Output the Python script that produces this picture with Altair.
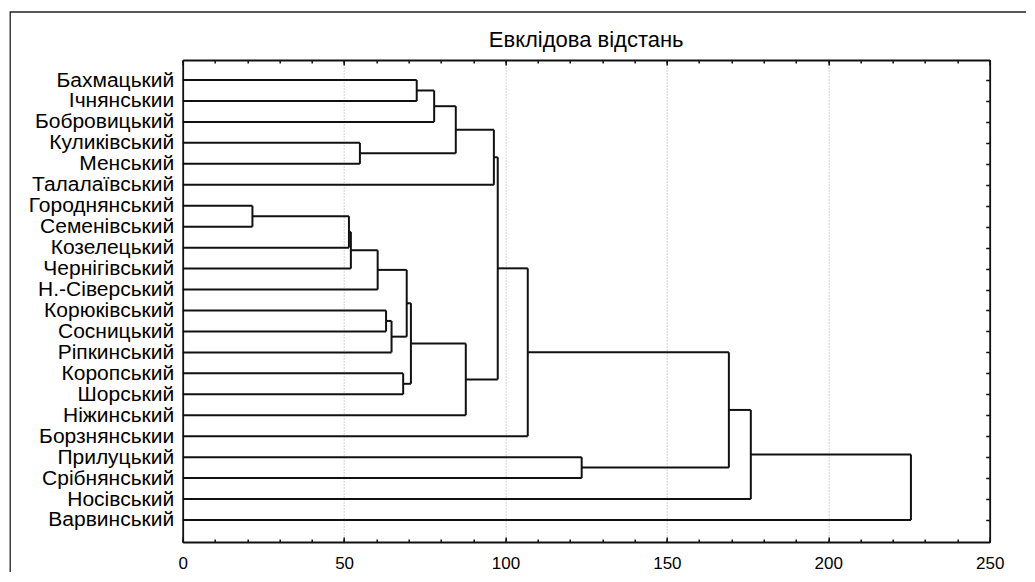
import altair as alt
import pandas as pd

# Leaves in dendrogram order (top to bottom)
leaves = ["Бахмацький", "Ічнянськии", "Бобровицький", "Куликівський", "Менський",
          "Талалаївський", "Городнянський", "Семенівський", "Козелецький",
          "Чернігівський", "Н.-Сіверський", "Корюківський", "Сосницький",
          "Ріпкинський", "Коропський", "Шорський", "Ніжинський", "Борзнянськии",
          "Прилуцький", "Срібнянський", "Носівський", "Варвинський"]

# Linkage: cluster ids 0..21 are leaves, each merge k creates cluster 22+k
merge_left = [0, 22, 3, 23, 25, 6, 27, 28, 29, 11, 31, 30, 14, 33, 35, 26, 37, 18, 38, 40, 41]
merge_right = [1, 2, 4, 24, 5, 7, 8, 9, 10, 12, 13, 32, 15, 34, 16, 36, 17, 19, 39, 20, 21]
merge_height = [72.5, 77.9, 54.9, 84.6, 96.4, 21.6, 51.5, 52.1, 60.4, 63.0, 64.7, 69.4,
                68.3, 70.7, 87.7, 97.6, 106.9, 123.6, 169.2, 176.0, 225.6]

x_ticks = [0, 50, 100, 150, 200, 250]
title_text = "Евклідова відстань"

# Build dendrogram segments from the linkage
pos = {i: float(i) for i in range(len(leaves))}
hgt = {i: 0.0 for i in range(len(leaves))}
rows = []
for k, (a, b, h) in enumerate(zip(merge_left, merge_right, merge_height)):
    cid = len(leaves) + k
    rows.append({"x1": h, "x2": h, "y1": pos[a], "y2": pos[b]})
    rows.append({"x1": hgt[a], "x2": h, "y1": pos[a], "y2": pos[a]})
    rows.append({"x1": hgt[b], "x2": h, "y1": pos[b], "y2": pos[b]})
    pos[cid] = (pos[a] + pos[b]) / 2
    hgt[cid] = h
seg = pd.DataFrame(rows)

W, H = 807, 482
FONT = "Liberation Sans"
INK = "#111111"
xscale = alt.Scale(domain=[0, 250], nice=False, zero=False)
yscale = alt.Scale(domain=[-0.955, 22.05], nice=False, zero=False, reverse=True)
label_expr = "[" + ",".join("'" + s + "'" for s in leaves) + "][datum.value]"
minor = list(range(0, 251, 10))
rowvals = list(range(len(leaves)))

base = alt.Chart(seg)

main = base.mark_rule(color=INK, strokeWidth=2).encode(
    x=alt.X("x1:Q", scale=xscale, axis=alt.Axis(
        orient="bottom", values=x_ticks, grid=True, gridDash=[1, 2], gridColor="#a8a8a8",
        gridWidth=1, ticks=False, domain=True, domainColor=INK, domainWidth=1.8,
        labelFontSize=17, labelFont=FONT, labelColor="#000000", labelPadding=14,
        labelFlush=False, title=None)),
    x2="x2:Q",
    y=alt.Y("y1:Q", scale=yscale, axis=alt.Axis(
        orient="left", values=rowvals, labelExpr=label_expr, ticks=False, domain=True,
        domainColor=INK, domainWidth=1.8, grid=False, labelFontSize=21, labelFont=FONT,
        labelColor="#000000", labelPadding=9, labelFlush=False, labelOverlap=False,
        title=None)),
    y2="y2:Q",
)


def tick_layer(xorient, xvals, xsize, xdomain, yaxis):
    return base.mark_rule(strokeOpacity=0).encode(
        x=alt.X("x1:Q", scale=xscale, axis=alt.Axis(
            orient=xorient, offset=-H, values=xvals, labels=False, domain=xdomain,
            domainColor=INK, domainWidth=1.8, grid=False, tickSize=xsize,
            tickColor=INK, tickWidth=1.5, title=None)),
        x2="x2:Q",
        y=alt.Y("y1:Q", scale=yscale, axis=yaxis),
        y2="y2:Q",
    )


right_ticks = alt.Axis(orient="left", offset=-W, values=rowvals, labels=False, domain=True,
                       domainColor=INK, domainWidth=1.8, grid=False, tickSize=4,
                       tickColor=INK, tickWidth=1.5, title=None)

t1 = tick_layer("top", minor, 3, False, right_ticks)
t2 = tick_layer("bottom", minor, 3, True, None)
t3 = tick_layer("top", x_ticks, 5, False, None)
t4 = tick_layer("bottom", x_ticks, 5, False, None)

frame = alt.Chart(pd.DataFrame({"a": [0]})).mark_rect(
    filled=False, stroke="#222222", strokeWidth=1.3
).encode(x=alt.value(-172.5), x2=alt.value(880), y=alt.value(-48), y2=alt.value(600))

chart = alt.layer(frame, main, t1, t2, t3, t4).resolve_axis(
    x="independent", y="independent"
).properties(
    width=W, height=H,
    title=alt.Title(title_text, fontSize=22, font=FONT, fontWeight="normal", color="#000000",
                    anchor="middle", frame="group", offset=-58, baseline="alphabetic"),
    autosize=alt.AutoSizeParams(type="none"),
    padding={"left": 174.7, "top": 52, "right": 36, "bottom": 30},
    background="white",
)

chart.save("out.html", embed_options={"renderer": "svg", "actions": False})
